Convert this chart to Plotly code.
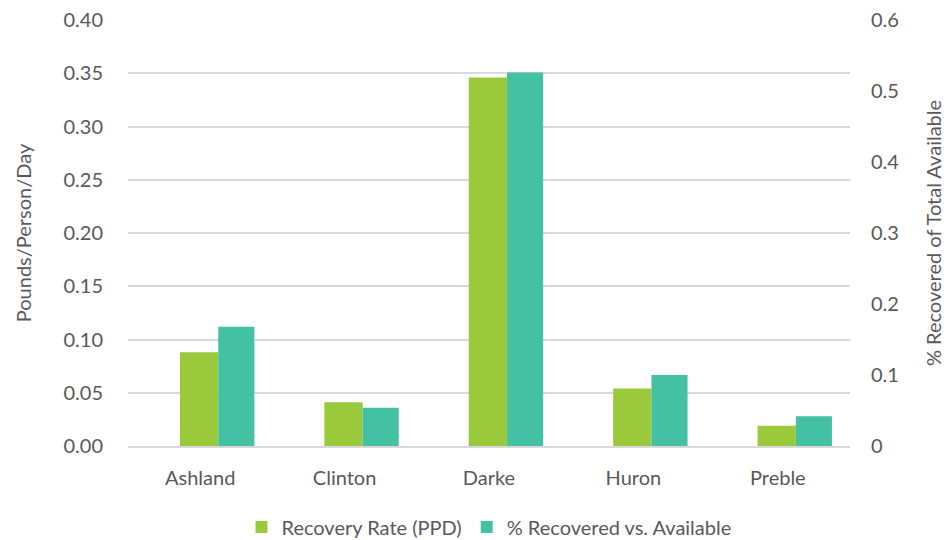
import plotly.graph_objects as go

counties = ["Ashland", "Clinton", "Darke", "Huron", "Preble"]
recovery_rate_ppd = [0.088, 0.041, 0.346, 0.054, 0.019]
pct_recovered = [0.168, 0.054, 0.526, 0.100, 0.042]

GREEN = "#9ACA3C"
TEAL = "#43C1A2"
TEXT = "#595959"
GRID = "#D9D9D9"
FONT = "Lato, 'Open Sans', sans-serif"
FS = 20

fig = go.Figure()
fig.add_trace(go.Bar(
    x=counties, y=recovery_rate_ppd, name="Recovery Rate (PPD)",
    marker=dict(color=GREEN, line=dict(width=0)),
    offset=-0.14, width=0.265, yaxis="y",
))
fig.add_trace(go.Bar(
    x=counties, y=pct_recovered, name="% Recovered vs. Available",
    marker=dict(color=TEAL, line=dict(width=0)),
    offset=0.125, width=0.25, yaxis="y2",
))

fig.update_layout(
    width=952, height=540,
    margin=dict(l=128, r=102, t=20, b=94, autoexpand=False),
    paper_bgcolor="white", plot_bgcolor="white",
    font=dict(family=FONT, size=FS, color=TEXT),
    barmode="overlay",
    showlegend=True,
    legend=dict(orientation="h", x=0.5, xanchor="center",
                y=-0.19, yanchor="middle",
                font=dict(size=FS, color=TEXT), itemwidth=30,
                traceorder="normal"),
    xaxis=dict(
        showgrid=False, showline=True, linecolor=GRID, linewidth=1.5,
        ticks="", ticklabelstandoff=13, tickfont=dict(size=FS, color=TEXT),
    ),
    yaxis=dict(
        range=[0, 0.40], dtick=0.05, tickformat=".2f",
        showgrid=True, gridcolor=GRID, gridwidth=1.5, zeroline=False,
        showline=False, ticks="", ticklabelstandoff=24,
        title=dict(text="Pounds/Person/Day", standoff=26, font=dict(size=FS, color=TEXT)),
    ),
    yaxis2=dict(
        range=[0, 0.6], dtick=0.1, overlaying="y", side="right",
        showgrid=False, zeroline=False, showline=False, ticks="",
        ticklabelstandoff=20,
        title=dict(text="% Recovered of Total Available", standoff=28,
                   font=dict(size=FS, color=TEXT)),
    ),
)

fig.write_html("out.html")
